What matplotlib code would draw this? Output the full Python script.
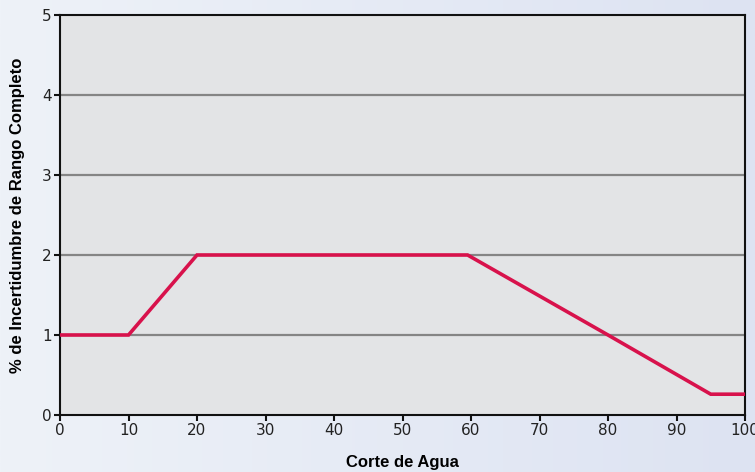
import numpy as np
from matplotlib import pyplot as plt

# water cut (%) vs uncertainty (% of full range)
corte = [0, 10, 20, 59.5, 80, 95, 100]
incert = [1, 1, 2, 2, 1, 0.26, 0.26]

xticks = [0, 10, 20, 30, 40, 50, 60, 70, 80, 90, 100]
yticks = [0, 1, 2, 3, 4, 5]

fig = plt.figure(figsize=(7.55, 4.72), dpi=100)
fig.patch.set_facecolor('#e4e9f4')

# soft background wash
bg = fig.add_axes([0, 0, 1, 1], zorder=-10)
grad = np.linspace(0, 1, 256)
bg.imshow(np.outer(np.ones(10), grad), cmap=plt.matplotlib.colors.LinearSegmentedColormap.from_list(
    'bg', ['#eef2f8', '#dde3f2']), aspect='auto', extent=[0, 1, 0, 1])
bg.axis('off')

ax = fig.add_axes([60 / 755, 57 / 472, 685 / 755, 400 / 472])
ax.set_facecolor('#e3e4e6')

for y in yticks[1:-1]:
    ax.axhline(y, color='#858585', lw=1.6, zorder=1)

ax.plot(corte, incert, color='#d8124c', lw=2.6, solid_joinstyle='miter', zorder=3)

ax.set_xlim(0, 100)
ax.set_ylim(0, 5)
ax.set_xticks(xticks)
ax.set_yticks(yticks)

tick_font = ['Liberation Sans Narrow', 'DejaVu Sans']
for lab in ax.get_xticklabels() + ax.get_yticklabels():
    lab.set_family(tick_font)
    lab.set_fontsize(11)
    lab.set_color('#222222')

ax.tick_params(direction='out', length=4, width=1.5, color='#111111', pad=2)
for s in ax.spines.values():
    s.set_color('#111111')
    s.set_linewidth(1.5)

ax.set_xlabel('Corte de Agua', fontsize=12, fontweight='bold',
              family=['Liberation Sans', 'DejaVu Sans'], labelpad=12)
ax.set_ylabel('% de Incertidumbre de Rango Completo', fontsize=12, fontweight='bold',
              family=['Liberation Sans', 'DejaVu Sans'], labelpad=12)

fig.savefig('out.png', dpi=100, facecolor=fig.get_facecolor())
